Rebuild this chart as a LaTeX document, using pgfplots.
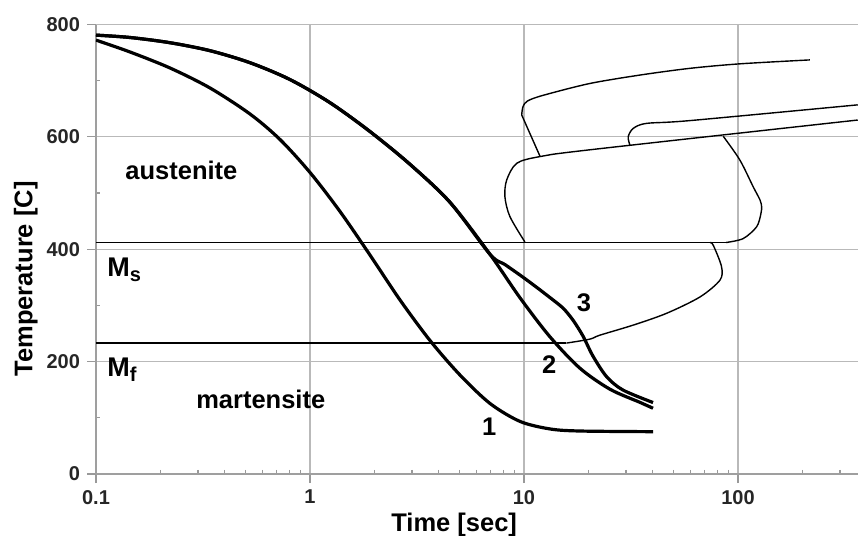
\documentclass[border=0pt]{standalone}
\usepackage{fontspec}
\setmainfont{Liberation Sans}
\usepackage{pgfplots}
\pgfplotsset{compat=1.18}
\begin{document}
\begin{tikzpicture}
\begin{axis}[
  at={(0,0)}, anchor=south west,
  scale only axis, width=381pt, height=224.75pt,
  xmode=log, xmin=0.1, xmax=364, ymin=0, ymax=800,
  axis x line*=bottom, axis y line*=left,
  axis line style={draw=gray!75, line width=0.9pt},
  xtick={0.1,1,10,100}, xticklabels={0.1,1,10,100},
  minor xtick={0.2,0.3,0.4,0.5,0.6,0.7,0.8,0.9,2,3,4,5,6,7,8,9,20,30,40,50,60,70,80,90,200,300},
  ytick={0,200,400,600,800}, yticklabels={0,200,400,600,800},
  minor ytick={100,300,500,700},
  grid=major, major grid style={draw=gray!55, line width=0.6pt},
  tick align=outside, major tick length=4.5pt, minor tick length=-2pt,
  every tick/.style={draw=gray!80, line width=0.6pt},
  ticklabel style={font=\bfseries\fontsize{10}{12}\selectfont, text=black!85},
  xlabel={Time [sec]}, ylabel={Temperature [C]},
  label style={font=\bfseries\fontsize{12.75}{15}\selectfont},
  xlabel style={at={(axis description cs:0.470,-0.127)}, anchor=base},
  ylabel style={at={(axis description cs:-0.092,0.434)}, anchor=center},
  clip=true,
]
% Ms and Mf lines
\addplot[black, line width=0.9pt] coordinates {(0.1,412) (90,412)};
\addplot[black, line width=0.9pt] coordinates {(0.1,233) (15.8,233)};
% right lobe of lower C-curve
\addplot[black, line width=0.7pt, smooth] coordinates {(88,412) (105.8,419) (122.3,440) (128,463) (129,476) (126.7,488) (117.9,511) (102,559) (85.4,601)};
% left lobe + line B
\addplot[black, line width=0.7pt, smooth] coordinates {(10.1,413) (8.6,458) (8.15,493) (8.3,523) (9.25,553) (11.9,565) (20.3,577) (363,630)};
% shape A
\addplot[black, line width=0.7pt] coordinates {(11.9,565) (9.76,639)};
\addplot[black, line width=0.7pt, smooth] coordinates {(9.76,639) (9.9,654) (10.4,664) (12.3,674) (20.3,695) (34.8,710) (59.7,722) (102,730) (217,737)};
% shape C
\addplot[black, line width=0.7pt, smooth] coordinates {(31.3,585) (30.7,600) (32.4,615) (37.4,624) (59.7,629) (363,657)};
% lower rising curve from Mf to Ms
\addplot[black, line width=0.7pt, smooth] coordinates {(15.8,233) (20.3,240) (22.6,247) (32.4,265) (46.4,286) (66.4,315) (82.4,345) (83.8,369) (76.7,407) (74,412)};
% cooling curve 1
\addplot[black, line width=1.6pt, smooth] coordinates {(0.1,772.2) (0.1442,751.1) (0.2218,722.6) (0.3412,687.0) (0.5246,640.7) (0.724,595.4) (1.0,536.7) (1.381,467.3) (1.906,389.9) (2.634,309.8) (3.637,237.7) (5.02,176.3) (6.936,125.6) (9.58,93.6) (13.22,80.2) (18.26,76.5) (40.1,75.3)};
% cooling curve 2
\addplot[black, line width=1.6pt, smooth] coordinates {(0.1,781.1) (0.1442,776.9) (0.2218,767.6) (0.3412,753.4) (0.5246,732.0) (0.806,702.1) (1.24,660.9) (1.906,609.6) (2.933,551.2) (4.51,483.6) (6.936,391.1) (9.58,313.7) (13.22,244.3) (18.26,188.3) (25.23,150.9) (34.84,127.5) (40.1,117)};
% cooling curve 3
\addplot[black, line width=1.6pt, smooth] coordinates {(0.1,781.1) (0.1442,776.9) (0.2218,767.6) (0.3412,753.4) (0.5246,732.0) (0.806,702.1) (1.24,660.9) (1.906,609.6) (2.933,551.2) (4.51,483.6) (6.936,391.1) (8.15,372.8) (9.58,354.1) (11.26,334.5) (13.22,314.1) (15.21,295.4) (16.94,274.0) (18.87,245.6) (21.0,210.0) (24.35,173.1) (29.0,149.5) (40.1,127.2)};
% annotations
\node[anchor=base west, inner sep=0pt, font=\bfseries\fontsize{12.75}{15}\selectfont] at (axis cs:0.1367,524) {austenite};
\node[anchor=base west, inner sep=0pt, font=\bfseries\fontsize{12.75}{15}\selectfont] at (axis cs:0.293,117) {martensite};
\node[anchor=base west, inner sep=0pt, font=\bfseries\fontsize{13.5}{15}\selectfont] at (axis cs:0.1125,351) {M\raisebox{-0.35ex}{\fontsize{10}{10}\selectfont s}};
\node[anchor=base west, inner sep=0pt, font=\bfseries\fontsize{13.5}{15}\selectfont] at (axis cs:0.1125,173) {M\raisebox{-0.35ex}{\fontsize{10}{10}\selectfont f}};
\node[anchor=base west, inner sep=0pt, font=\bfseries\fontsize{12.75}{15}\selectfont] at (axis cs:6.35,69) {1};
\node[anchor=base west, inner sep=0pt, font=\bfseries\fontsize{12.75}{15}\selectfont] at (axis cs:12.1,179) {2};
\node[anchor=base west, inner sep=0pt, font=\bfseries\fontsize{12.75}{15}\selectfont] at (axis cs:17.6,289) {3};
\end{axis}
\pgfresetboundingbox
\path (-48pt,-31pt) rectangle (381pt,237pt);
\end{tikzpicture}
\end{document}
